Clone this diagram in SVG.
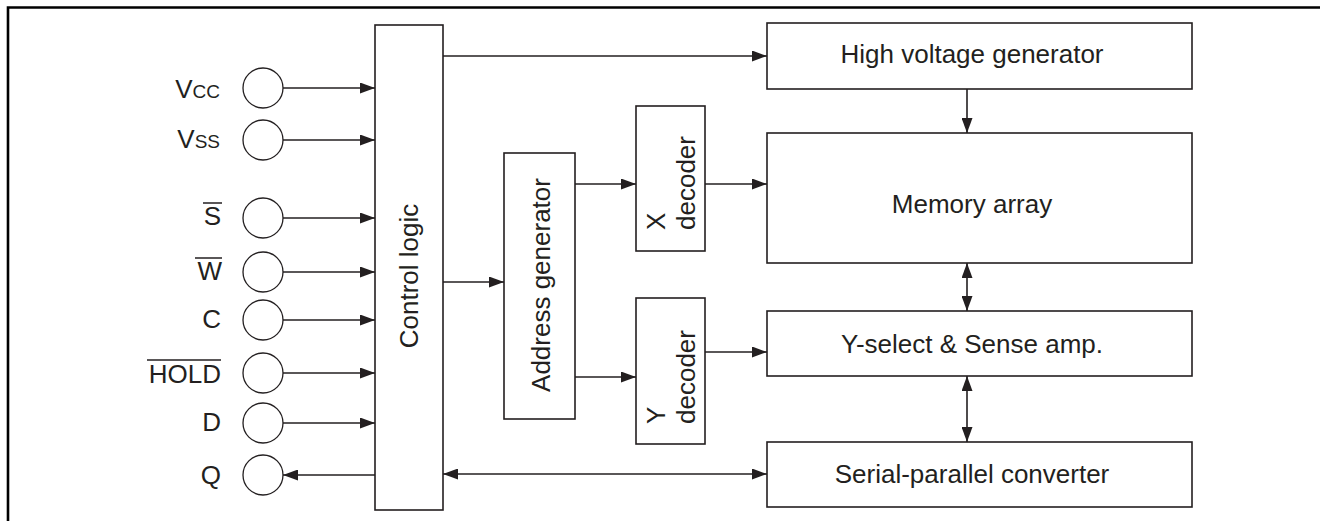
<svg xmlns="http://www.w3.org/2000/svg" width="1320" height="521" viewBox="0 0 1320 521">
<style>
.box{fill:#fff;stroke:#231f20;stroke-width:1.6}
.pin{fill:#fff;stroke:#231f20;stroke-width:1.3}
.t{font-family:"Liberation Sans",Arial,sans-serif;font-size:26px;fill:#231f20}
.c{stroke:#231f20;stroke-width:1.6;fill:none}
.ob{stroke:#231f20;stroke-width:1.5}
</style>
<defs>
<marker id="ah" markerUnits="userSpaceOnUse" markerWidth="15" markerHeight="11" refX="15" refY="5.5" orient="auto-start-reverse" viewBox="0 0 15 11">
<path d="M0,0 L15,5.5 L0,11 z" fill="#231f20"/>
</marker>
</defs>
<rect width="1320" height="521" fill="#fff"/>
<g id="frame">
<path d="M8,521 V7.5 H1320" fill="none" stroke="#000" stroke-width="2.6"/>
</g>
<g id="connectors">
<line class="c" x1="283" y1="88" x2="375" y2="88" marker-end="url(#ah)"/>
<line class="c" x1="283" y1="140" x2="375" y2="140" marker-end="url(#ah)"/>
<line class="c" x1="283" y1="218" x2="375" y2="218" marker-end="url(#ah)"/>
<line class="c" x1="283" y1="272" x2="375" y2="272" marker-end="url(#ah)"/>
<line class="c" x1="283" y1="320" x2="375" y2="320" marker-end="url(#ah)"/>
<line class="c" x1="283" y1="373" x2="375" y2="373" marker-end="url(#ah)"/>
<line class="c" x1="283" y1="423" x2="375" y2="423" marker-end="url(#ah)"/>
<line class="c" x1="375" y1="475" x2="283" y2="475" marker-end="url(#ah)"/>
<line class="c" x1="443" y1="56" x2="767" y2="56" marker-end="url(#ah)"/>
<line class="c" x1="443" y1="282" x2="504" y2="282" marker-end="url(#ah)"/>
<line class="c" x1="575" y1="184" x2="636" y2="184" marker-end="url(#ah)"/>
<line class="c" x1="705" y1="184" x2="767" y2="184" marker-end="url(#ah)"/>
<line class="c" x1="575" y1="377" x2="636" y2="377" marker-end="url(#ah)"/>
<line class="c" x1="705" y1="352" x2="767" y2="352" marker-end="url(#ah)"/>
<line class="c" x1="443" y1="474" x2="767" y2="474" marker-start="url(#ah)" marker-end="url(#ah)"/>
<line class="c" x1="967" y1="89" x2="967" y2="133" marker-end="url(#ah)"/>
<line class="c" x1="967" y1="263" x2="967" y2="311" marker-start="url(#ah)" marker-end="url(#ah)"/>
<line class="c" x1="967" y1="376" x2="967" y2="442" marker-start="url(#ah)" marker-end="url(#ah)"/>
</g>
<g id="pin-vcc"><circle class="pin" cx="263" cy="88" r="20"/><text class="t" x="220" y="98" text-anchor="end">V<tspan font-size="19">CC</tspan></text></g>
<g id="pin-vss"><circle class="pin" cx="263" cy="140" r="20"/><text class="t" x="220" y="148" text-anchor="end">V<tspan font-size="19">SS</tspan></text></g>
<g id="pin-s"><circle class="pin" cx="263" cy="218" r="20"/><text class="t" x="221" y="225" text-anchor="end">S</text><line class="ob" x1="203" y1="203" x2="222" y2="203"/></g>
<g id="pin-w"><circle class="pin" cx="263" cy="272" r="20"/><text class="t" x="222" y="280" text-anchor="end">W</text><line class="ob" x1="195" y1="258" x2="222" y2="258"/></g>
<g id="pin-c"><circle class="pin" cx="263" cy="320" r="20"/><text class="t" x="221" y="328" text-anchor="end">C</text></g>
<g id="pin-hold"><circle class="pin" cx="263" cy="373" r="20"/><text class="t" x="221" y="383" text-anchor="end">HOLD</text><line class="ob" x1="147" y1="360" x2="221" y2="360"/></g>
<g id="pin-d"><circle class="pin" cx="263" cy="423" r="20"/><text class="t" x="221" y="431" text-anchor="end">D</text></g>
<g id="pin-q"><circle class="pin" cx="263" cy="475" r="20"/><text class="t" x="221" y="484" text-anchor="end">Q</text></g>
<g id="control-logic"><rect class="box" x="375" y="25" width="68" height="485"/><text class="t" transform="translate(418,276) rotate(-90)" text-anchor="middle">Control logic</text></g>
<g id="address-generator"><rect class="box" x="504" y="153" width="71" height="266"/><text class="t" transform="translate(550,285) rotate(-90)" text-anchor="middle">Address generator</text></g>
<g id="x-decoder"><rect class="box" x="636" y="106" width="69" height="145"/><g transform="translate(665,230) rotate(-90)"><text class="t" x="0" y="0">X</text><text class="t" x="0" y="30">decoder</text></g></g>
<g id="y-decoder"><rect class="box" x="636" y="298" width="69" height="146"/><g transform="translate(665,424) rotate(-90)"><text class="t" x="0" y="0">Y</text><text class="t" x="0" y="30">decoder</text></g></g>
<g id="high-voltage-generator"><rect class="box" x="767" y="23" width="425" height="66"/><text class="t" x="972" y="63" text-anchor="middle">High voltage generator</text></g>
<g id="memory-array"><rect class="box" x="767" y="133" width="425" height="130"/><text class="t" x="972" y="213" text-anchor="middle">Memory array</text></g>
<g id="y-select"><rect class="box" x="767" y="311" width="425" height="65"/><text class="t" x="972" y="353" text-anchor="middle">Y-select &amp; Sense amp.</text></g>
<g id="serial-parallel"><rect class="box" x="767" y="442" width="425" height="65"/><text class="t" x="972" y="483" text-anchor="middle">Serial-parallel converter</text></g>
</svg>
